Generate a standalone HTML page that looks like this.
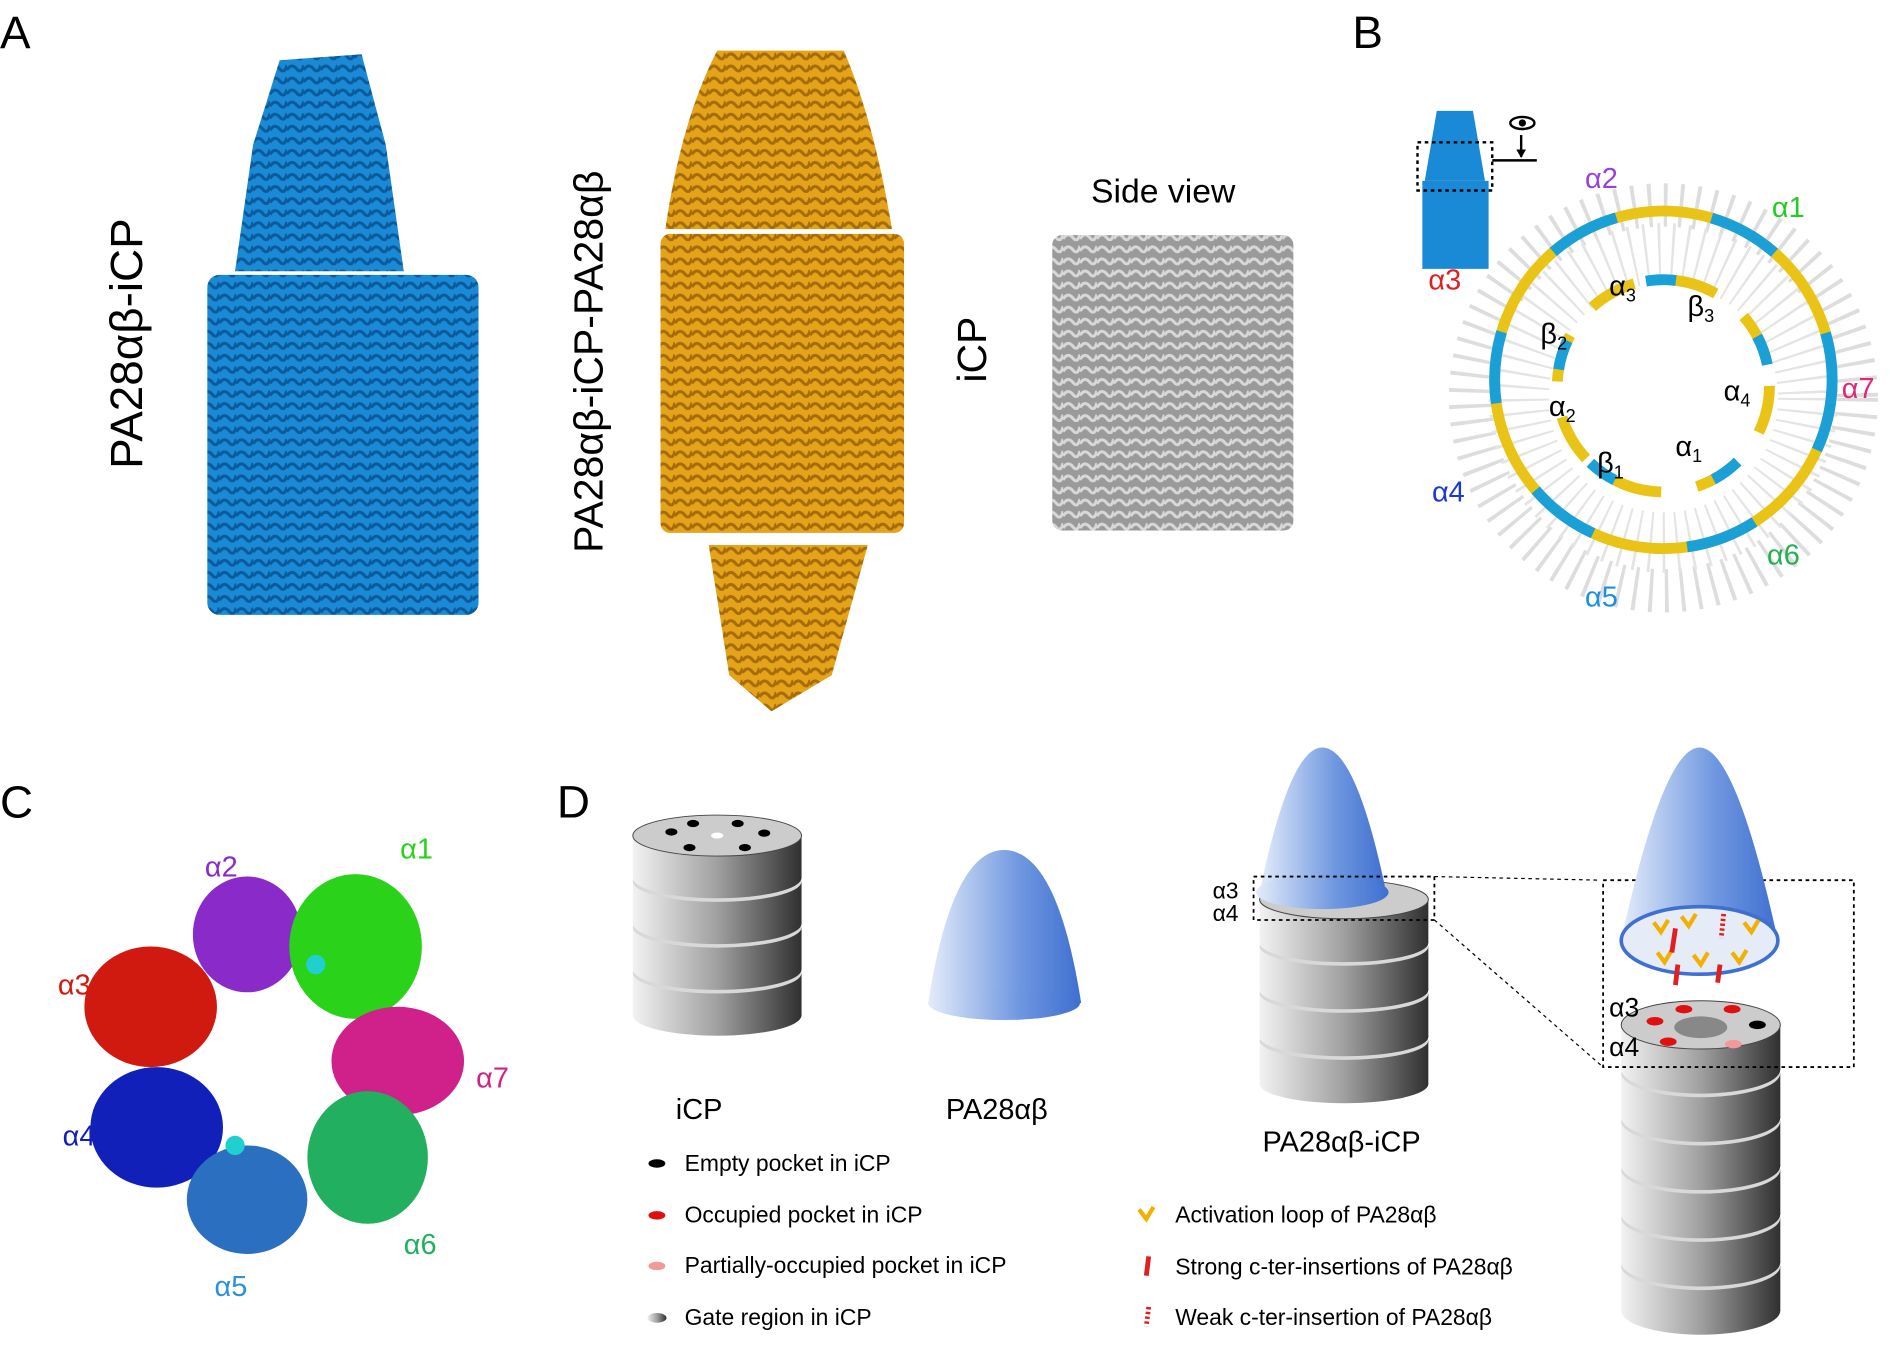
<!DOCTYPE html>
<html><head><meta charset="utf-8"><style>
html,body{margin:0;padding:0;background:#fff}
svg{display:block}
text{font-family:"Liberation Sans","DejaVu Sans",sans-serif}
</style></head><body>
<svg id="S" width="1890" height="1348" viewBox="0 0 1568 1118" preserveAspectRatio="none" xmlns="http://www.w3.org/2000/svg">
<defs>
<pattern id="pb" width="14" height="10" patternUnits="userSpaceOnUse"><rect width="14" height="10" fill="#1a8ad6"/><path d="M0 8 Q4 2 8 7 T14 4" stroke="#0b5a9a" stroke-width="2.5" fill="none"/></pattern>
<pattern id="po" width="14" height="10" patternUnits="userSpaceOnUse"><rect width="14" height="10" fill="#e5a31a"/><path d="M0 8 Q4 2 8 7 T14 4" stroke="#a56c08" stroke-width="2.5" fill="none"/></pattern>
<pattern id="pg" width="14" height="10" patternUnits="userSpaceOnUse"><rect width="14" height="10" fill="#9a9a9a"/><path d="M0 8 Q4 2 8 7 T14 4" stroke="#d8d8d8" stroke-width="2.5" fill="none"/></pattern>
<linearGradient id="cyl" x1="0" x2="1"><stop offset="0" stop-color="#f2f2f2"/><stop offset="0.5" stop-color="#a0a0a0"/><stop offset="1" stop-color="#303030"/></linearGradient>
<linearGradient id="cone" x1="0" x2="1"><stop offset="0" stop-color="#e4ecfa"/><stop offset="0.6" stop-color="#6f97e0"/><stop offset="1" stop-color="#3f6fd0"/></linearGradient>
</defs>
<text x="0" y="40" font-size="38">A</text>
<text x="1122" y="40" font-size="38">B</text>
<text x="0" y="678" font-size="38">C</text>
<text x="462" y="678" font-size="38">D</text>

<text transform="translate(118,285) rotate(-90)" font-size="38" text-anchor="middle">PA28αβ-iCP</text>
<path d="M232 50 L300 45 L320 120 L335 225 L195 225 L210 120 Z" fill="url(#pb)"/>
<rect x="172" y="228" width="225" height="282" rx="10" fill="url(#pb)"/>
<text transform="translate(500,300) rotate(-90)" font-size="34" text-anchor="middle">PA28αβ-iCP-PA28αβ</text>
<path d="M595 42 L700 42 Q725 100 740 190 L552 190 Q565 100 595 42 Z" fill="url(#po)"/>
<rect x="548" y="194" width="202" height="248" rx="8" fill="url(#po)"/>
<path d="M588 452 L720 452 L690 560 L640 590 L605 560 Z" fill="url(#po)"/>
<text transform="translate(818,290) rotate(-90)" font-size="34" text-anchor="middle">iCP</text>
<text x="965" y="168" font-size="28" text-anchor="middle">Side view</text>
<rect x="873" y="195" width="200" height="245" rx="8" fill="url(#pg)"/>

<!-- B -->
<path d="M1192 92 L1222 92 L1232 150 L1182 150 Z" fill="#1a8ad6"/>
<rect x="1180" y="150" width="55" height="73" fill="#1a8ad6"/>
<rect x="1176" y="118" width="62" height="40" fill="none" stroke="#000" stroke-width="2" stroke-dasharray="3 3"/>
<line x1="1238" y1="133" x2="1275" y2="133" stroke="#000" stroke-width="2"/>
<line x1="1262" y1="112" x2="1262" y2="130" stroke="#000" stroke-width="2"/>
<path d="M1258 124 L1262 131 L1266 124" fill="#000"/>
<ellipse cx="1263" cy="102" rx="10" ry="5" fill="none" stroke="#000" stroke-width="2"/><circle cx="1263" cy="102" r="3"/>
<circle cx="1380" cy="330" r="160" fill="none" stroke="#ddd" stroke-width="36" stroke-dasharray="3 10"/>
<circle cx="1380" cy="330" r="120" fill="none" stroke="#e4e4e4" stroke-width="50" stroke-dasharray="2 9"/>
<circle cx="1380" cy="315" r="140" fill="none" stroke="#e9c316" stroke-width="9"/>
<circle cx="1380" cy="315" r="140" fill="none" stroke="#1aa0d6" stroke-width="9" stroke-dasharray="60 80"/>
<circle cx="1380" cy="320" r="88" fill="none" stroke="#e9c316" stroke-width="9" stroke-dasharray="40 30"/>
<circle cx="1380" cy="320" r="88" fill="none" stroke="#1aa0d6" stroke-width="9" stroke-dasharray="25 85" stroke-dashoffset="40"/>
<g font-size="24">
<text x="1315" y="156" fill="#9a40e0">α2</text>
<text x="1470" y="180" fill="#22cc22">α1</text>
<text x="1185" y="240" fill="#e02020">α3</text>
<text x="1528" y="330" fill="#e0287a">α7</text>
<text x="1188" y="416" fill="#1a3ad0">α4</text>
<text x="1466" y="468" fill="#22b050">α6</text>
<text x="1315" y="503" fill="#1a90e0">α5</text>
<text x="1335" y="245" fill="#000">α<tspan font-size="15" dy="5">3</tspan></text>
<text x="1400" y="262" fill="#000">β<tspan font-size="15" dy="5">3</tspan></text>
<text x="1278" y="285" fill="#000">β<tspan font-size="15" dy="5">2</tspan></text>
<text x="1430" y="332" fill="#000">α<tspan font-size="15" dy="5">4</tspan></text>
<text x="1285" y="345" fill="#000">α<tspan font-size="15" dy="5">2</tspan></text>
<text x="1390" y="378" fill="#000">α<tspan font-size="15" dy="5">1</tspan></text>
<text x="1325" y="392" fill="#000">β<tspan font-size="15" dy="5">1</tspan></text>
</g>

<!-- C -->
<g>
<ellipse cx="205" cy="775" rx="45" ry="48" fill="#8a2ac8"/>
<ellipse cx="295" cy="785" rx="55" ry="60" fill="#2ad21a"/>
<ellipse cx="125" cy="835" rx="55" ry="50" fill="#d01a10"/>
<ellipse cx="330" cy="880" rx="55" ry="45" fill="#d0208a"/>
<ellipse cx="130" cy="935" rx="55" ry="50" fill="#1020b8"/>
<ellipse cx="305" cy="960" rx="50" ry="55" fill="#22b060"/>
<ellipse cx="205" cy="995" rx="50" ry="45" fill="#2a6fc0"/>
<circle cx="195" cy="950" r="8" fill="#20d0d0"/><circle cx="262" cy="800" r="8" fill="#20d0d0"/>
</g>
<g font-size="24">
<text x="170" y="727" fill="#8a2ac8">α2</text>
<text x="332" y="712" fill="#2ad21a">α1</text>
<text x="48" y="825" fill="#d01a10">α3</text>
<text x="395" y="902" fill="#d0208a">α7</text>
<text x="52" y="950" fill="#1020b8">α4</text>
<text x="335" y="1040" fill="#22b060">α6</text>
<text x="178" y="1075" fill="#2a90e0">α5</text>
</g>

<g id="cyls"></g>

<!-- iCP holes -->
<g fill="#000"><ellipse cx="557" cy="690" rx="5" ry="3"/><ellipse cx="575" cy="683" rx="5" ry="3"/><ellipse cx="612" cy="683" rx="5" ry="3"/><ellipse cx="634" cy="691" rx="5" ry="3"/><ellipse cx="572" cy="703" rx="5" ry="3"/><ellipse cx="618" cy="703" rx="5" ry="3"/></g>
<ellipse cx="595" cy="693" rx="5" ry="2.5" fill="#fff"/>
<text x="580" y="928" font-size="24" text-anchor="middle">iCP</text>
<path d="M770 832 Q790 705 833 705 Q877 705 897 832 Z" fill="url(#cone)"/>
<ellipse cx="833" cy="832" rx="63" ry="14" fill="url(#cone)"/>
<text x="827" y="928" font-size="24" text-anchor="middle">PA28αβ</text>

<path d="M1045 740 Q1070 620 1097 620 Q1125 620 1150 740 Z" fill="url(#cone)"/>
<ellipse cx="1097" cy="740" rx="55" ry="14" fill="url(#cone)"/>
<rect x="1040" y="727" width="150" height="36" fill="none" stroke="#000" stroke-width="1.5" stroke-dasharray="3 3"/>
<text x="1006" y="745" font-size="19">α3</text>
<text x="1006" y="764" font-size="19">α4</text>
<text x="1113" y="955" font-size="24" text-anchor="middle">PA28αβ-iCP</text>

<line x1="1190" y1="727" x2="1328" y2="730" stroke="#000" stroke-dasharray="3 3"/>
<line x1="1190" y1="763" x2="1330" y2="885" stroke="#000" stroke-dasharray="3 3"/>
<rect x="1330" y="730" width="208" height="155" fill="none" stroke="#000" stroke-width="1.5" stroke-dasharray="3 3"/>
<path d="M1345 780 Q1380 620 1410 620 Q1440 620 1475 780 Z" fill="url(#cone)"/>
<ellipse cx="1410" cy="780" rx="65" ry="28" fill="#e6ebf8" stroke="#3f6fd0" stroke-width="3"/>
<g stroke="#f2b000" stroke-width="3.5" fill="none"><path d="M1372 765 l6 8 6-10"/><path d="M1395 760 l6 8 6-10"/><path d="M1447 765 l6 8 6-10"/><path d="M1375 790 l6 8 6-10"/><path d="M1405 792 l6 8 6-10"/><path d="M1437 790 l6 8 6-10"/></g>
<g stroke="#e02020" stroke-width="4"><line x1="1390" y1="770" x2="1387" y2="790"/><line x1="1392" y1="800" x2="1390" y2="817"/><line x1="1427" y1="800" x2="1425" y2="815"/><line x1="1430" y1="758" x2="1428" y2="778" stroke-dasharray="2 2"/></g>
<ellipse cx="1411" cy="852" rx="22" ry="9" fill="#888"/>
<g fill="#e01010"><ellipse cx="1373" cy="847" rx="7" ry="3.5"/><ellipse cx="1397" cy="837" rx="7" ry="3.5"/><ellipse cx="1437" cy="837" rx="7" ry="3.5"/><ellipse cx="1384" cy="864" rx="7" ry="3.5"/></g>
<ellipse cx="1438" cy="866" rx="7" ry="3.5" fill="#f29a9a"/><ellipse cx="1458" cy="850" rx="7" ry="3.5" fill="#000"/>
<text x="1335" y="843" font-size="22">α3</text>
<text x="1335" y="876" font-size="22">α4</text>

<g font-size="19">
<ellipse cx="545" cy="965" rx="7" ry="3.5" fill="#000"/><text x="568" y="971">Empty pocket in iCP</text>
<ellipse cx="545" cy="1008" rx="7" ry="3.5" fill="#e01010"/><text x="568" y="1014">Occupied pocket in iCP</text>
<ellipse cx="545" cy="1050" rx="7" ry="3.5" fill="#f29a9a"/><text x="568" y="1056">Partially-occupied pocket in iCP</text>
<ellipse cx="545" cy="1093" rx="8" ry="4" fill="url(#cyl)"/><text x="568" y="1099">Gate region in iCP</text>
<path d="M945 1003 l6 8 6-10" stroke="#f2b000" stroke-width="3.5" fill="none"/><text x="975" y="1014">Activation loop of PA28αβ</text>
<line x1="953" y1="1042" x2="951" y2="1058" stroke="#e02020" stroke-width="4"/><text x="975" y="1057">Strong c-ter-insertions of PA28αβ</text>
<line x1="953" y1="1084" x2="951" y2="1100" stroke="#e02020" stroke-width="4" stroke-dasharray="2 2"/><text x="975" y="1099">Weak c-ter-insertion of PA28αβ</text>
</g>
</svg>
<script>
(function(){
var g=document.getElementById('cyls'),NS='http://www.w3.org/2000/svg',out='';
function stack(cx,top,rx,ry,n,h,gap,topFill){
 // draw bottom disc first
 for(var i=n-1;i>=0;i--){
  var y=top+i*(h+gap);
  out+='<rect x="'+(cx-rx)+'" y="'+y+'" width="'+2*rx+'" height="'+h+'" fill="url(#cyl)"/>';
  out+='<ellipse cx="'+cx+'" cy="'+(y+h)+'" rx="'+rx+'" ry="'+ry+'" fill="url(#cyl)"/>';
  out+='<ellipse cx="'+cx+'" cy="'+y+'" rx="'+rx+'" ry="'+ry+'" fill="'+(i==0?topFill:'#d8d8d8')+'" stroke="'+(i==0?'#444':'none')+'" stroke-width="0.8"/>';
 }
}
stack(595,693,70,17,4,35,3,'#ccc');
stack(1115,746,70,16,4,36,3,'#ccc');
stack(1411,850,66,20,6,37,3,'#ccc');
g.innerHTML=out;
})();
</script>
</body></html>
